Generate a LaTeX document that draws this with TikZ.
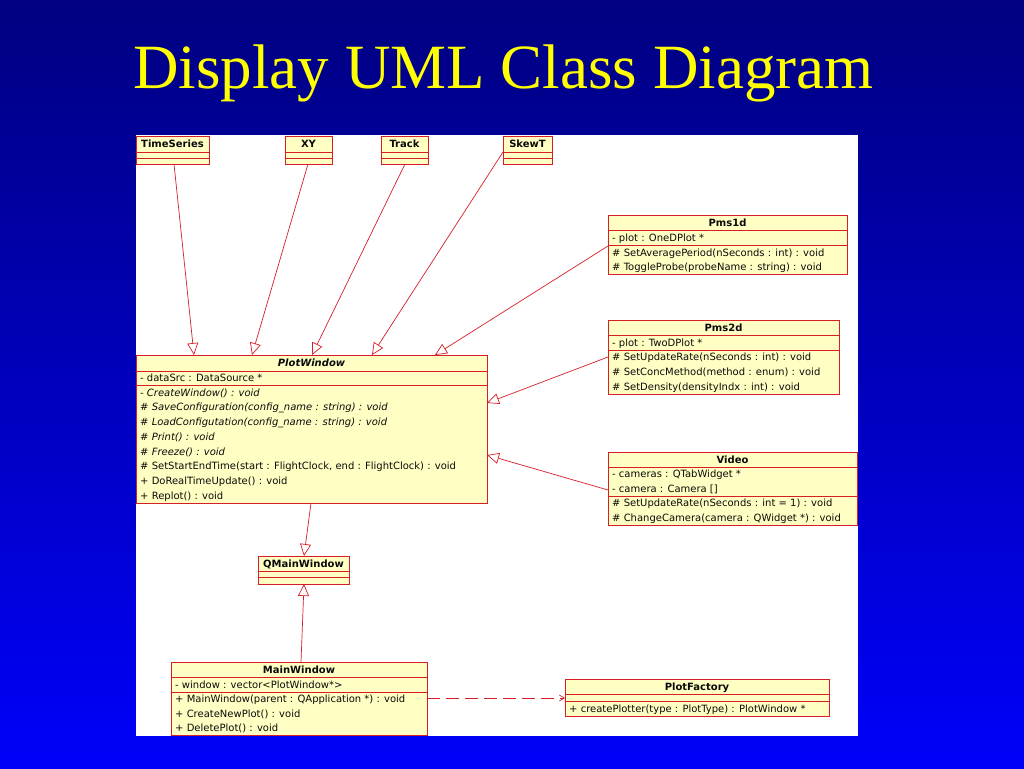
\documentclass[tikz,border=0pt]{standalone}
\usepackage{fontspec}
\setmainfont{DejaVu Sans}
\newfontfamily\titlefont{Liberation Serif}
\usetikzlibrary{arrows.meta,calc}
\definecolor{bgtop}{RGB}{0,0,128}
\definecolor{bgbot}{RGB}{0,0,250}
\definecolor{boxred}{RGB}{215,30,40}
\definecolor{boxfill}{RGB}{255,255,196}
\definecolor{titleyellow}{RGB}{255,255,0}
\definecolor{txtcol}{RGB}{10,10,10}
\newcommand\umlrow[4]{\node[rowtext] (#1) at (#2,#3) {#4};}
\newcommand\compline[2]{\draw[sep] ($(#1.north west)+(0,#2)$) -- ($(#1.north east)+(0,#2)$);}
\begin{document}
\begin{tikzpicture}[x=1pt,y=-1pt,
  classbox/.style={draw=boxred,fill=boxfill,line width=0.9pt,inner sep=0pt,outer sep=0pt,anchor=north west},
  rowtext/.style={anchor=base west,inner sep=0pt,text=txtcol,font=\fontsize{10}{12}\selectfont},
  headtext/.style={anchor=base,inner sep=0pt,text=txtcol,font=\fontsize{10}{12}\selectfont\bfseries},
  sep/.style={draw=boxred,line width=0.9pt},
  gen/.style={draw=boxred,line width=0.7pt,-{Triangle[open,length=12pt,width=11pt]}},
  dep/.style={draw=boxred,line width=0.7pt,dash pattern=on 13pt off 6pt,-{Straight Barb[length=5pt,width=6pt]}},
]
\useasboundingbox (0,0) rectangle (1024,768);
\shade[top color=bgtop,bottom color=bgbot] (0,0) rectangle (1024,768);
\fill[white] (136,135) rectangle (858,736);

\node[anchor=base,inner sep=0pt,font=\titlefont\fontsize{63}{70}\selectfont,text=titleyellow] (title) at (503.5,88) {Display UML Class Diagram};

% top classes
\node[classbox,minimum width=73pt,minimum height=28pt] (ts) at (136,136) {};
\compline{ts}{16}\compline{ts}{22}
\node[headtext] (tsh) at ($(ts.north)+(0,11.6)$) {TimeSeries};

\node[classbox,minimum width=47pt,minimum height=28pt] (xy) at (285,136) {};
\compline{xy}{16}\compline{xy}{22}
\node[headtext] (xyh) at ($(xy.north)+(0,11.6)$) {XY};

\node[classbox,minimum width=47pt,minimum height=28pt] (tr) at (381,136) {};
\compline{tr}{16}\compline{tr}{22}
\node[headtext] (trh) at ($(tr.north)+(0,11.6)$) {Track};

\node[classbox,minimum width=49pt,minimum height=28pt] (sk) at (503,136) {};
\compline{sk}{16}\compline{sk}{22}
\node[headtext] (skh) at ($(sk.north)+(0,11.6)$) {SkewT};

% Pms1d
\node[classbox,minimum width=239pt,minimum height=59pt] (p1) at (608,215) {};
\compline{p1}{15}\compline{p1}{30}
\node[headtext] (p1h) at ($(p1.north)+(0,11.1)$) {Pms1d};
\umlrow{p1a}{612}{241.1}{- plot : OneDPlot *}
\umlrow{p1m1}{612}{256.1}{\# SetAveragePeriod(nSeconds : int) : void}
\umlrow{p1m2}{612}{270.6}{\# ToggleProbe(probeName : string) : void}

% Pms2d
\node[classbox,minimum width=231pt,minimum height=74pt] (p2) at (608,320) {};
\compline{p2}{15}\compline{p2}{30}
\node[headtext] (p2h) at ($(p2.north)+(0,11.1)$) {Pms2d};
\umlrow{p2a}{612}{346.1}{- plot : TwoDPlot *}
\umlrow{p2m1}{612}{360.9}{\# SetUpdateRate(nSeconds : int) : void}
\umlrow{p2m2}{612}{375.6}{\# SetConcMethod(method : enum) : void}
\umlrow{p2m3}{612}{390.3}{\# SetDensity(densityIndx : int) : void}

% PlotWindow
\node[classbox,minimum width=351pt,minimum height=148pt] (pw) at (136,355) {};
\compline{pw}{16}\compline{pw}{30}
\node[headtext,font=\fontsize{10}{12}\selectfont\bfseries\itshape] (pwh) at ($(pw.north)+(0,11.6)$) {PlotWindow};
\umlrow{pwa}{140}{381.6}{- dataSrc : DataSource *}
\umlrow{pwm1}{140}{396.0}{\itshape - CreateWindow() : void}
\umlrow{pwm2}{140}{410.7}{\itshape \# SaveConfiguration(config\_name : string) : void}
\umlrow{pwm3}{140}{425.5}{\itshape \# LoadConfigutation(config\_name : string) : void}
\umlrow{pwm4}{140}{440.2}{\itshape \# Print() : void}
\umlrow{pwm5}{140}{455.0}{\itshape \# Freeze() : void}
\umlrow{pwm6}{140}{469.7}{\# SetStartEndTime(start : FlightClock, end : FlightClock) : void}
\umlrow{pwm7}{140}{484.5}{+ DoRealTimeUpdate() : void}
\umlrow{pwm8}{140}{499.2}{+ Replot() : void}

% Video
\node[classbox,minimum width=249pt,minimum height=73pt] (vd) at (608,452) {};
\compline{vd}{15}\compline{vd}{44}
\node[headtext] (vdh) at ($(vd.north)+(0,11.1)$) {Video};
\umlrow{vda1}{612}{477.8}{- cameras : QTabWidget *}
\umlrow{vda2}{612}{492.4}{- camera : Camera []}
\umlrow{vdm1}{612}{506.8}{\# SetUpdateRate(nSeconds : int = 1) : void}
\umlrow{vdm2}{612}{521.4}{\# ChangeCamera(camera : QWidget *) : void}

% QMainWindow
\node[classbox,minimum width=91pt,minimum height=28pt] (qm) at (258,556) {};
\compline{qm}{15}\compline{qm}{21}
\node[headtext] (qmh) at ($(qm.north)+(0,11.1)$) {QMainWindow};

% MainWindow
\node[classbox,minimum width=256pt,minimum height=73pt] (mw) at (171,662) {};
\compline{mw}{15}\compline{mw}{30}
\node[headtext] (mwh) at ($(mw.north)+(0,11.1)$) {MainWindow};
\umlrow{mwa}{175}{688.1}{- window : vector<PlotWindow*>}
\umlrow{mwm1}{175}{702.8}{+ MainWindow(parent : QApplication *) : void}
\umlrow{mwm2}{175}{717.1}{+ CreateNewPlot() : void}
\umlrow{mwm3}{175}{731.4}{+ DeletePlot() : void}

% PlotFactory
\node[classbox,minimum width=264pt,minimum height=37pt] (pf) at (565,679) {};
\compline{pf}{15}\compline{pf}{22}
\node[headtext] (pfh) at ($(pf.north)+(0,11.1)$) {PlotFactory};
\umlrow{pfm1}{569}{712.1}{+ createPlotter(type : PlotType) : PlotWindow *}

% connectors
\draw[gen] ($(ts.south west)+(38,0)$) -- ($(pw.north west)+(58,0)$);
\draw[gen] ($(xy.south west)+(23,0)$) -- ($(pw.north west)+(116,0)$);
\draw[gen] ($(tr.south west)+(24,0)$) -- ($(pw.north west)+(176,0)$);
\draw[gen] ($(sk.north west)+(0,16)$) -- ($(pw.north west)+(236,0)$);
\draw[gen] ($(p1.north west)+(0,31)$) -- ($(pw.north west)+(299,0)$);
\draw[gen] ($(p2.north west)+(0,37)$) -- ($(pw.north east)+(0,48)$);
\draw[gen] ($(vd.north west)+(0,38)$) -- ($(pw.north east)+(0,100)$);
\draw[gen] ($(pw.south west)+(175,0)$) -- ($(qm.north west)+(46,0)$);
\draw[gen] ($(mw.north west)+(130,0)$) -- ($(qm.south west)+(46,0)$);
\draw[dep] ($(mw.north east)+(0,36)$) -- ($(pf.north west)+(0,19)$);
\end{tikzpicture}
\end{document}
